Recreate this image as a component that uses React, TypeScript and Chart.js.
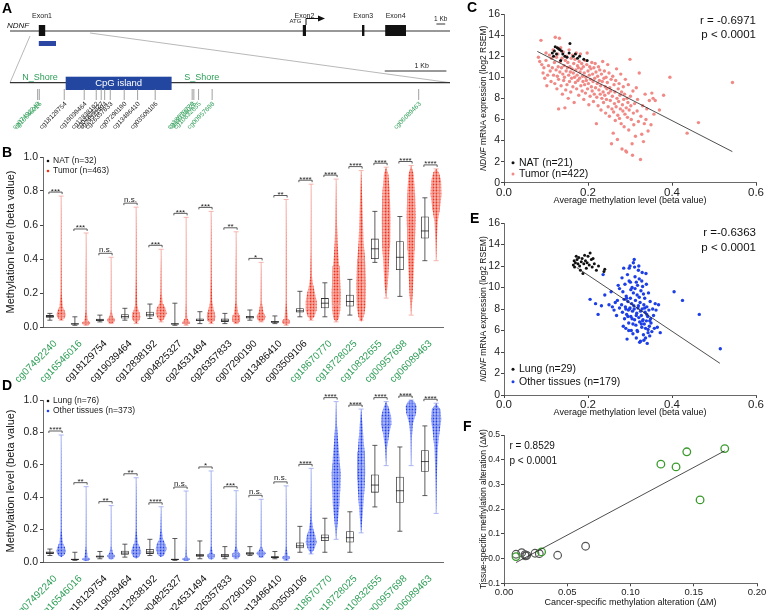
import React, { useEffect, useRef } from "react";
import { Chart, registerables } from "chart.js";
Chart.register(...registerables);

const FONT = "'Liberation Sans', Arial, Helvetica, sans-serif";
Chart.defaults.font.family = FONT;
Chart.defaults.color = "#222";

const GREEN = "#2e9e57";

// ---------------- Panel A data ----------------
const geneSpanKb = [0, 55];
const exonNames = ["Exon1", "Exon2", "Exon3", "Exon4"];
const exonStartKb = [3.6, 36.6, 44.0, 46.9];
const exonEndKb = [4.4, 37.0, 44.3, 49.5];
const cpgMarkKb = [3.6, 5.75];
const zoomedRegionKb = [2.5, 10];
const geneScaleBarKb = [53.3, 54.4];
const regionSpanBp = [0, 7000];
const cpgIslandBp = [886, 2571];
const shoreNames = ["N_Shore", "S_Shore"];
const shoreLabelBp = [477, 3052];
const regionScaleBarBp = [5962, 6943];

// ---------------- Probes ----------------
const probes = [
  "cg07492240", "cg16546016", "cg18129754", "cg19039464", "cg12838192", "cg04825327",
  "cg24531494", "cg26357833", "cg07290190", "cg13486410", "cg03509106", "cg18670770",
  "cg18728025", "cg10832655", "cg00957698", "cg06089463",
];
const probePosBp = [440, 466, 863, 1181, 1372, 1451, 1506, 1595, 1817, 2030, 2310, 2898, 2925, 3000, 3216, 6502];
const shoreProbe = [1, 1, 0, 0, 0, 0, 0, 0, 0, 0, 0, 1, 1, 1, 1, 1];

// ---------------- Panel B data: [min, q1, median, q3, max] ----------------
const natStats = [
  [0.04, 0.055, 0.062, 0.07, 0.08], [0.01, 0.015, 0.018, 0.022, 0.06], [0.03, 0.035, 0.04, 0.048, 0.07],
  [0.04, 0.05, 0.062, 0.075, 0.11], [0.05, 0.062, 0.072, 0.09, 0.135], [0.01, 0.015, 0.018, 0.022, 0.14],
  [0.02, 0.035, 0.04, 0.05, 0.09], [0.02, 0.03, 0.04, 0.05, 0.08], [0.04, 0.05, 0.058, 0.065, 0.1],
  [0.02, 0.025, 0.03, 0.035, 0.065], [0.06, 0.085, 0.095, 0.11, 0.21], [0.06, 0.11, 0.14, 0.17, 0.26],
  [0.07, 0.12, 0.15, 0.19, 0.28], [0.38, 0.4, 0.46, 0.52, 0.68], [0.18, 0.335, 0.41, 0.505, 0.65],
  [0.39, 0.52, 0.565, 0.65, 0.76],
];
const tumorStats = [
  [0.04, 0.06, 0.072, 0.09, 0.77], [0.01, 0.017, 0.022, 0.03, 0.553], [0.02, 0.032, 0.04, 0.05, 0.41],
  [0.02, 0.04, 0.055, 0.09, 0.705], [0.03, 0.065, 0.085, 0.11, 0.457], [0.01, 0.018, 0.022, 0.03, 0.645],
  [0.02, 0.035, 0.05, 0.09, 0.68], [0.02, 0.03, 0.04, 0.07, 0.56], [0.03, 0.045, 0.055, 0.075, 0.38],
  [0.01, 0.02, 0.03, 0.04, 0.75], [0.04, 0.1, 0.14, 0.18, 0.84], [0.03, 0.13, 0.2, 0.36, 0.87],
  [0.04, 0.15, 0.26, 0.4, 0.92], [0.17, 0.47, 0.6, 0.75, 0.94], [0.07, 0.45, 0.6, 0.79, 0.95],
  [0.39, 0.685, 0.79, 0.85, 0.93],
];
// relative density of the dot cloud: [beta value, density]
const tumorDensity = [
  [[0.04, 0], [0.05, 0.6], [0.07, 0.85], [0.09, 0.7], [0.12, 0.3], [0.2, 0.1], [0.4, 0.05], [0.77, 0]],
  [[0.01, 0], [0.015, 0.6], [0.025, 0.75], [0.04, 0.3], [0.1, 0.08], [0.3, 0.05], [0.553, 0]],
  [[0.02, 0], [0.03, 0.6], [0.045, 0.7], [0.06, 0.3], [0.1, 0.06], [0.41, 0]],
  [[0.02, 0], [0.035, 0.5], [0.06, 0.8], [0.09, 0.5], [0.13, 0.2], [0.3, 0.06], [0.705, 0]],
  [[0.03, 0], [0.05, 0.6], [0.08, 1], [0.11, 0.8], [0.14, 0.3], [0.2, 0.1], [0.457, 0]],
  [[0.01, 0], [0.02, 0.6], [0.03, 0.7], [0.05, 0.2], [0.15, 0.06], [0.645, 0]],
  [[0.02, 0], [0.035, 0.6], [0.06, 0.8], [0.1, 0.5], [0.15, 0.2], [0.3, 0.08], [0.68, 0]],
  [[0.02, 0], [0.03, 0.6], [0.05, 0.75], [0.08, 0.4], [0.15, 0.1], [0.56, 0]],
  [[0.03, 0], [0.04, 0.6], [0.06, 0.8], [0.09, 0.4], [0.15, 0.1], [0.38, 0]],
  [[0.01, 0], [0.02, 0.6], [0.035, 0.75], [0.05, 0.3], [0.15, 0.06], [0.75, 0]],
  [[0.04, 0], [0.06, 0.6], [0.1, 1], [0.15, 1], [0.2, 0.7], [0.25, 0.35], [0.3, 0.15], [0.45, 0.05], [0.84, 0]],
  [[0.03, 0], [0.05, 0.5], [0.1, 0.75], [0.2, 0.8], [0.3, 0.7], [0.4, 0.45], [0.5, 0.25], [0.65, 0.12], [0.87, 0]],
  [[0.03, 0], [0.06, 0.5], [0.12, 0.8], [0.25, 0.9], [0.38, 0.75], [0.5, 0.45], [0.65, 0.3], [0.8, 0.15], [0.92, 0]],
  [[0.17, 0], [0.25, 0.3], [0.4, 0.55], [0.5, 0.75], [0.65, 0.8], [0.8, 0.65], [0.9, 0.4], [0.94, 0]],
  [[0.07, 0], [0.2, 0.3], [0.35, 0.5], [0.5, 0.7], [0.65, 0.8], [0.8, 0.7], [0.9, 0.45], [0.95, 0]],
  [[0.39, 0], [0.5, 0.1], [0.62, 0.3], [0.7, 0.7], [0.78, 1], [0.86, 0.9], [0.91, 0.5], [0.93, 0]],
];
const sigB = ["***", "***", "n.s.", "n.s.", "***", "***", "***", "**", "*", "**", "****", "****", "****", "****", "****", "****"];

// ---------------- Panel D data ----------------
const lungStats = [
  [0.04, 0.05, 0.057, 0.065, 0.08], [0.01, 0.013, 0.016, 0.02, 0.06], [0.02, 0.028, 0.033, 0.04, 0.065],
  [0.03, 0.045, 0.055, 0.07, 0.11], [0.04, 0.05, 0.062, 0.08, 0.14], [0.01, 0.013, 0.016, 0.02, 0.145],
  [0.02, 0.032, 0.04, 0.05, 0.13], [0.02, 0.03, 0.038, 0.05, 0.095], [0.04, 0.045, 0.053, 0.06, 0.095],
  [0.02, 0.025, 0.03, 0.035, 0.065], [0.06, 0.085, 0.1, 0.12, 0.22], [0.06, 0.13, 0.15, 0.17, 0.27],
  [0.06, 0.12, 0.15, 0.19, 0.31], [0.34, 0.428, 0.475, 0.54, 0.72], [0.19, 0.366, 0.44, 0.527, 0.71],
  [0.41, 0.557, 0.62, 0.69, 0.84],
];
const otherStats = [
  [0.04, 0.055, 0.065, 0.08, 0.784], [0.01, 0.014, 0.018, 0.022, 0.465], [0.02, 0.03, 0.036, 0.045, 0.348],
  [0.03, 0.045, 0.06, 0.08, 0.52], [0.04, 0.06, 0.08, 0.11, 0.341], [0.01, 0.014, 0.018, 0.022, 0.438],
  [0.02, 0.03, 0.038, 0.05, 0.562], [0.02, 0.033, 0.04, 0.055, 0.44], [0.03, 0.045, 0.052, 0.065, 0.387],
  [0.01, 0.02, 0.025, 0.035, 0.47], [0.05, 0.1, 0.12, 0.15, 0.578], [0.14, 0.46, 0.535, 0.605, 0.99],
  [0.18, 0.505, 0.59, 0.68, 0.944], [0.595, 0.84, 0.87, 0.9, 0.99], [0.595, 0.92, 0.955, 0.98, 1.0],
  [0.3, 0.84, 0.9, 0.95, 0.98],
];
const otherDensity = [
  [[0.03, 0], [0.045, 0.6], [0.065, 0.9], [0.09, 0.7], [0.12, 0.3], [0.2, 0.08], [0.784, 0]],
  [[0.005, 0], [0.012, 0.6], [0.02, 0.7], [0.03, 0.3], [0.1, 0.05], [0.465, 0]],
  [[0.015, 0], [0.025, 0.55], [0.04, 0.7], [0.055, 0.3], [0.1, 0.05], [0.348, 0]],
  [[0.02, 0], [0.035, 0.6], [0.06, 0.95], [0.09, 0.7], [0.12, 0.3], [0.2, 0.08], [0.52, 0]],
  [[0.03, 0], [0.045, 0.6], [0.08, 1], [0.11, 0.8], [0.14, 0.35], [0.2, 0.1], [0.341, 0]],
  [[0.005, 0], [0.012, 0.6], [0.02, 0.7], [0.03, 0.2], [0.1, 0.05], [0.438, 0]],
  [[0.015, 0], [0.025, 0.55], [0.04, 0.7], [0.055, 0.3], [0.1, 0.06], [0.562, 0]],
  [[0.02, 0], [0.03, 0.6], [0.045, 0.8], [0.065, 0.35], [0.1, 0.08], [0.44, 0]],
  [[0.025, 0], [0.04, 0.6], [0.055, 0.85], [0.07, 0.4], [0.1, 0.08], [0.387, 0]],
  [[0.01, 0], [0.018, 0.55], [0.03, 0.7], [0.04, 0.3], [0.1, 0.05], [0.47, 0]],
  [[0.05, 0], [0.08, 0.6], [0.12, 1], [0.16, 0.8], [0.2, 0.4], [0.26, 0.15], [0.35, 0.05], [0.578, 0]],
  [[0.14, 0], [0.25, 0.3], [0.35, 0.6], [0.45, 0.75], [0.55, 0.8], [0.65, 0.6], [0.75, 0.35], [0.85, 0.15], [0.99, 0]],
  [[0.18, 0], [0.3, 0.3], [0.45, 0.6], [0.55, 0.75], [0.65, 0.7], [0.75, 0.45], [0.85, 0.25], [0.944, 0]],
  [[0.595, 0], [0.7, 0.15], [0.8, 0.6], [0.85, 0.95], [0.9, 0.9], [0.95, 0.5], [0.99, 0]],
  [[0.595, 0], [0.75, 0.1], [0.85, 0.3], [0.92, 0.9], [0.96, 1], [0.99, 0.6], [1.0, 0]],
  [[0.3, 0], [0.5, 0.1], [0.7, 0.3], [0.8, 0.6], [0.88, 0.95], [0.94, 0.8], [0.98, 0]],
];
const sigD = ["****", "**", "**", "**", "****", "n.s.", "*", "***", "n.s.", "n.s.", "****", "****", "****", "****", "****", "****"];

// ---------------- Panel C data ----------------
const cNatPoints = [
  [0.115, 12.3], [0.118, 12.0], [0.12, 12.5], [0.122, 12.9], [0.125, 12.2], [0.127, 12.8], [0.13, 12.7],
  [0.133, 12.6], [0.135, 11.6], [0.137, 12.5], [0.14, 12.2], [0.145, 12.0], [0.15, 11.9], [0.155, 12.3],
  [0.157, 13.2], [0.165, 12.0], [0.17, 12.2], [0.175, 11.8], [0.18, 12.0], [0.19, 11.7], [0.198, 11.6],
];
const cTumorPoints = [
  [0.082, 11.9], [0.085, 11.5], [0.088, 13.5], [0.09, 11.2], [0.093, 10.4], [0.095, 10.9], [0.097, 9.9], [0.1, 11.6],
  [0.1, 12.3], [0.102, 9.2], [0.104, 10.2], [0.106, 11.1], [0.108, 12.1], [0.11, 10.6], [0.112, 9.6], [0.113, 11.8],
  [0.115, 10.9], [0.117, 12.6], [0.118, 10.2], [0.12, 11.4], [0.121, 9.4], [0.122, 13.8], [0.124, 10.7], [0.125, 11.9],
  [0.126, 8.9], [0.127, 10.1], [0.128, 12.2], [0.129, 11.0], [0.13, 7.0], [0.13, 9.8], [0.132, 13.7], [0.133, 10.5],
  [0.134, 11.5], [0.135, 12.8], [0.136, 9.2], [0.137, 10.9], [0.138, 11.8], [0.139, 8.4], [0.14, 10.3], [0.141, 12.4],
  [0.142, 9.7], [0.143, 11.1], [0.144, 10.0], [0.145, 7.1], [0.146, 11.6], [0.147, 8.8], [0.148, 10.6], [0.149, 12.0],
  [0.15, 9.3], [0.151, 10.9], [0.152, 11.4], [0.153, 8.0], [0.154, 10.2], [0.155, 12.6], [0.156, 9.6], [0.157, 11.0],
  [0.158, 10.5], [0.159, 8.6], [0.16, 11.8], [0.161, 9.9], [0.162, 10.8], [0.163, 12.1], [0.164, 9.1], [0.165, 10.4],
  [0.166, 11.3], [0.167, 7.6], [0.168, 10.0], [0.169, 11.7], [0.17, 9.5], [0.171, 10.7], [0.172, 12.3], [0.173, 8.9],
  [0.174, 10.2], [0.175, 11.1], [0.176, 9.7], [0.177, 10.9], [0.178, 8.3], [0.179, 11.5], [0.18, 9.9], [0.181, 10.5],
  [0.182, 12.2], [0.183, 9.2], [0.184, 10.8], [0.185, 11.3], [0.186, 8.7], [0.187, 10.1], [0.188, 9.6], [0.189, 11.0],
  [0.19, 7.9], [0.191, 10.4], [0.192, 9.3], [0.193, 11.6], [0.194, 8.5], [0.195, 10.0], [0.196, 9.7], [0.197, 11.2],
  [0.198, 12.3], [0.199, 8.9], [0.2, 10.6], [0.201, 9.4], [0.202, 7.4], [0.203, 10.2], [0.204, 11.0], [0.205, 8.2],
  [0.206, 9.8], [0.207, 10.8], [0.208, 9.1], [0.209, 11.4], [0.21, 8.7], [0.211, 10.3], [0.212, 9.6], [0.213, 7.7],
  [0.214, 10.9], [0.215, 8.4], [0.216, 9.9], [0.217, 11.3], [0.218, 9.0], [0.219, 10.5], [0.22, 5.6], [0.221, 8.1],
  [0.222, 9.4], [0.223, 10.1], [0.224, 7.3], [0.225, 11.0], [0.226, 8.8], [0.227, 9.7], [0.228, 10.7], [0.229, 8.4],
  [0.23, 9.2], [0.231, 6.9], [0.232, 10.3], [0.233, 8.0], [0.234, 9.6], [0.235, 11.5], [0.236, 8.6], [0.237, 7.6],
  [0.238, 9.9], [0.239, 10.6], [0.24, 8.3], [0.241, 9.1], [0.242, 6.6], [0.243, 10.0], [0.244, 7.9], [0.245, 8.9],
  [0.246, 9.5], [0.247, 11.2], [0.248, 7.2], [0.249, 8.5], [0.25, 10.4], [0.251, 6.3], [0.252, 9.0], [0.253, 7.8],
  [0.254, 8.7], [0.255, 9.8], [0.256, 3.7], [0.257, 7.0], [0.258, 8.2], [0.259, 10.1], [0.26, 4.7], [0.261, 6.7],
  [0.262, 9.3], [0.263, 7.5], [0.264, 8.6], [0.265, 5.9], [0.266, 9.7], [0.267, 7.2], [0.268, 10.8], [0.269, 8.0],
  [0.27, 4.1], [0.271, 6.4], [0.272, 8.9], [0.273, 7.7], [0.274, 9.4], [0.275, 6.1], [0.276, 8.3], [0.277, 7.0],
  [0.278, 10.3], [0.279, 5.6], [0.28, 8.6], [0.281, 3.2], [0.282, 7.4], [0.283, 6.8], [0.284, 9.1], [0.285, 7.9],
  [0.286, 5.3], [0.287, 8.4], [0.288, 6.5], [0.289, 9.8], [0.29, 3.0], [0.291, 7.1], [0.292, 2.9], [0.293, 8.0],
  [0.294, 6.2], [0.295, 7.6], [0.296, 9.3], [0.297, 5.0], [0.298, 6.9], [0.3, 11.7], [0.301, 8.2], [0.302, 7.3],
  [0.303, 6.0], [0.305, 3.7], [0.306, 2.6], [0.307, 8.7], [0.308, 6.6], [0.309, 5.5], [0.311, 7.5], [0.313, 4.4],
  [0.315, 9.0], [0.317, 6.8], [0.318, 7.9], [0.32, 5.8], [0.322, 10.4], [0.325, 2.2], [0.326, 6.3], [0.328, 4.6],
  [0.33, 7.3], [0.332, 3.9], [0.334, 5.6], [0.336, 8.4], [0.338, 6.0], [0.34, 7.0], [0.343, 4.9], [0.346, 7.8],
  [0.35, 5.5], [0.352, 8.5], [0.355, 8.0], [0.357, 6.5], [0.36, 7.8], [0.37, 6.9], [0.38, 8.3], [0.395, 10.0],
  [0.436, 4.7], [0.463, 5.7], [0.544, 9.5],
];
const cFitX = [0.0794, 0.5437];
const cFitY = [12.45, 2.95];

// ---------------- Panel E data ----------------
const eLungPoints = [
  [0.165, 12.1], [0.167, 12.5], [0.168, 11.9], [0.17, 12.3], [0.172, 12.9], [0.174, 12.6], [0.176, 12.2],
  [0.178, 12.8], [0.18, 12.0], [0.182, 11.6], [0.184, 12.4], [0.186, 12.7], [0.188, 11.3], [0.19, 12.2],
  [0.192, 13.0], [0.194, 12.5], [0.196, 11.8], [0.198, 12.3], [0.2, 12.9], [0.203, 12.1], [0.205, 13.2],
  [0.208, 12.6], [0.21, 11.9], [0.212, 12.7], [0.215, 12.2], [0.22, 11.6], [0.225, 12.0], [0.238, 11.5], [0.24, 11.7],
];
const eOtherPoints = [
  [0.205, 8.9], [0.218, 8.5], [0.224, 7.5], [0.236, 11.2], [0.24, 9.3], [0.232, 8.3], [0.25, 8.4], [0.255, 9.6],
  [0.258, 8.2], [0.262, 7.9], [0.265, 8.6], [0.268, 7.4], [0.27, 8.8], [0.272, 10.2], [0.275, 9.9], [0.275, 8.1],
  [0.28, 8.4], [0.281, 10.9], [0.282, 7.7], [0.283, 9.6], [0.284, 6.4], [0.285, 11.8], [0.286, 8.9], [0.287, 7.1],
  [0.288, 10.3], [0.289, 8.2], [0.29, 6.2], [0.291, 9.2], [0.292, 7.5], [0.293, 5.2], [0.294, 11.2], [0.295, 8.7],
  [0.296, 7.9], [0.297, 6.7], [0.298, 10.6], [0.299, 8.0], [0.3, 12.0], [0.301, 9.0], [0.302, 7.3], [0.303, 6.0],
  [0.304, 8.5], [0.305, 10.0], [0.306, 7.8], [0.307, 5.7], [0.308, 9.5], [0.309, 8.3], [0.31, 12.6], [0.311, 7.0],
  [0.312, 11.0], [0.313, 8.8], [0.314, 6.5], [0.315, 10.5], [0.316, 7.6], [0.317, 9.3], [0.318, 5.9], [0.319, 8.1],
  [0.32, 11.6], [0.321, 7.2], [0.322, 10.8], [0.323, 6.8], [0.324, 8.6], [0.325, 5.0], [0.326, 9.7], [0.327, 7.4],
  [0.328, 6.3], [0.329, 8.0], [0.33, 10.1], [0.331, 7.0], [0.332, 5.6], [0.333, 8.4], [0.334, 6.6], [0.335, 9.0],
  [0.336, 7.7], [0.337, 5.3], [0.338, 11.3], [0.339, 6.9], [0.34, 8.2], [0.341, 4.8], [0.342, 7.3], [0.343, 6.1],
  [0.344, 9.5], [0.345, 7.9], [0.346, 6.4], [0.347, 5.5], [0.348, 8.7], [0.349, 7.1], [0.35, 6.7], [0.352, 5.9],
  [0.354, 8.0], [0.356, 7.4], [0.358, 6.2], [0.29, 8.0], [0.295, 7.3], [0.3, 8.1], [0.305, 7.1], [0.31, 8.0],
  [0.315, 7.4], [0.32, 8.3], [0.325, 7.8], [0.33, 6.9], [0.335, 8.1], [0.34, 7.5], [0.292, 9.0], [0.302, 9.8],
  [0.312, 9.9], [0.322, 9.1], [0.332, 9.4], [0.297, 6.0], [0.307, 6.6], [0.317, 6.0], [0.327, 6.6], [0.337, 6.2],
  [0.347, 6.9], [0.298, 11.8], [0.308, 12.3], [0.318, 10.2], [0.328, 10.6], [0.315, 5.3], [0.323, 4.9], [0.333, 5.1],
  [0.343, 5.8], [0.301, 10.5], [0.311, 11.9], [0.321, 12.0], [0.329, 11.4], [0.339, 10.3], [0.36, 8.5], [0.362, 7.9],
  [0.368, 8.4], [0.372, 5.8], [0.365, 6.3], [0.405, 9.6], [0.425, 8.8], [0.465, 7.5], [0.515, 4.3],
];
const eFitX = [0.173, 0.514];
const eFitY = [11.86, 2.95];

// ---------------- Panel F data ----------------
const fShoreCancer = [0.0095, 0.0297, 0.124, 0.136, 0.1445, 0.155, 0.1745];
const fShoreTissue = [0.008, 0.027, 0.382, 0.371, 0.432, 0.2375, 0.445];
const fIslandCancer = [0.0095, 0.014, 0.0166, 0.017, 0.018, 0.0245, 0.0279, 0.0424, 0.0645];
const fIslandTissue = [0.0175, 0.024, 0.016, 0.011, 0.013, 0.0216, 0.02, 0.0135, 0.05];
const fFitX = [0.0095, 0.1745];
const fFitY = [-0.016, 0.436];

// ---------------- helpers ----------------
function drawLetter(ctx: any, t: string, x: number, y: number) {
  ctx.save();
  ctx.font = `bold 14px ${FONT}`;
  ctx.fillStyle = "#000";
  ctx.textAlign = "left";
  ctx.textBaseline = "top";
  ctx.fillText(t, x, y);
  ctx.restore();
}

function seg(ctx: any, x0: number, y0: number, x1: number, y1: number) {
  ctx.beginPath();
  ctx.moveTo(x0, y0);
  ctx.lineTo(x1, y1);
  ctx.stroke();
}

function rotatedMixed(ctx: any, cx: number, cy: number, parts: { t: string; it?: boolean }[], size: number) {
  ctx.save();
  ctx.translate(cx, cy);
  ctx.rotate(-Math.PI / 2);
  ctx.fillStyle = "#111";
  ctx.textBaseline = "middle";
  ctx.textAlign = "left";
  let total = 0;
  const ws = parts.map((p) => {
    ctx.font = `${p.it ? "italic " : ""}${size}px ${FONT}`;
    const w = ctx.measureText(p.t).width;
    total += w;
    return w;
  });
  let x = -total / 2;
  parts.forEach((p, i) => {
    ctx.font = `${p.it ? "italic " : ""}${size}px ${FONT}`;
    ctx.fillText(p.t, x, 0);
    x += ws[i];
  });
  ctx.restore();
}

function dotPattern(ctx: any, color: string) {
  const c = document.createElement("canvas");
  c.width = 3;
  c.height = 3;
  const g = c.getContext("2d")!;
  g.fillStyle = color;
  g.beginPath();
  g.arc(1.5, 1.5, 0.9, 0, Math.PI * 2);
  g.fill();
  return ctx.createPattern(c, "repeat");
}

// ---------------- Panel A ----------------
function configA() {
  const plugin = {
    id: "geneTrack",
    afterDraw(chart: any) {
      const ctx = chart.ctx;
      const G = (v: number) => chart.scales.x.getPixelForValue(v);
      const R = (v: number) => chart.scales.x2.getPixelForValue(v);
      ctx.save();
      drawLetter(ctx, "A", 2, 2);
      ctx.strokeStyle = "#333";
      ctx.lineWidth = 1.2;
      seg(ctx, G(geneSpanKb[0]), 31, G(geneSpanKb[1]), 31);
      ctx.fillStyle = "#111";
      ctx.font = `italic 8px ${FONT}`;
      ctx.textAlign = "left";
      ctx.textBaseline = "alphabetic";
      ctx.fillText("NDNF", 7, 28);
      exonNames.forEach((n, i) => {
        const x0 = G(exonStartKb[i]);
        const x1 = G(exonEndKb[i]);
        ctx.fillStyle = "#111";
        ctx.fillRect(x0, 25, Math.max(x1 - x0, 1.6), 11);
        ctx.font = `7px ${FONT}`;
        ctx.textAlign = "center";
        ctx.fillStyle = "#222";
        ctx.fillText(n, (x0 + x1) / 2, 18);
      });
      const ax = G(exonEndKb[1]);
      ctx.font = `6px ${FONT}`;
      ctx.textAlign = "right";
      ctx.fillText("ATG", G(exonStartKb[1]) - 1.5, 23);
      ctx.strokeStyle = "#111";
      ctx.lineWidth = 1;
      ctx.beginPath();
      ctx.moveTo(ax, 25);
      ctx.lineTo(ax, 18.5);
      ctx.lineTo(ax + 13, 18.5);
      ctx.stroke();
      ctx.fillStyle = "#111";
      ctx.beginPath();
      ctx.moveTo(ax + 19, 18.5);
      ctx.lineTo(ax + 12, 15.5);
      ctx.lineTo(ax + 12, 21.5);
      ctx.closePath();
      ctx.fill();
      ctx.lineWidth = 1;
      ctx.strokeStyle = "#333";
      seg(ctx, G(geneScaleBarKb[0]), 24, G(geneScaleBarKb[1]), 24);
      ctx.font = `6.5px ${FONT}`;
      ctx.textAlign = "center";
      ctx.fillStyle = "#222";
      ctx.fillText("1 Kb", (G(geneScaleBarKb[0]) + G(geneScaleBarKb[1])) / 2, 21);
      ctx.fillStyle = "#2b47a3";
      ctx.fillRect(G(cpgMarkKb[0]), 41, G(cpgMarkKb[1]) - G(cpgMarkKb[0]), 5);
      ctx.strokeStyle = "#9a9a9a";
      ctx.lineWidth = 0.7;
      seg(ctx, G(zoomedRegionKb[0]), 36, R(regionSpanBp[0]), 82.7);
      seg(ctx, G(zoomedRegionKb[1]), 33, R(regionSpanBp[1]), 82.7);
      ctx.strokeStyle = "#333";
      ctx.lineWidth = 1.2;
      seg(ctx, R(regionSpanBp[0]), 82.7, R(regionSpanBp[1]), 82.7);
      const c0 = R(cpgIslandBp[0]);
      const c1 = R(cpgIslandBp[1]);
      ctx.fillStyle = "#2346a0";
      ctx.fillRect(c0, 76.7, c1 - c0, 13.3);
      ctx.fillStyle = "#fff";
      ctx.font = `9.5px ${FONT}`;
      ctx.textAlign = "center";
      ctx.textBaseline = "middle";
      ctx.fillText("CpG island", (c0 + c1) / 2, 83.5);
      ctx.fillStyle = GREEN;
      ctx.font = `9px ${FONT}`;
      shoreNames.forEach((n, i) => ctx.fillText(n, R(shoreLabelBp[i]), 77.5));
      ctx.strokeStyle = "#333";
      ctx.lineWidth = 1;
      seg(ctx, R(regionScaleBarBp[0]), 71, R(regionScaleBarBp[1]), 71);
      ctx.fillStyle = "#222";
      ctx.font = `7px ${FONT}`;
      ctx.fillText("1 Kb", (R(regionScaleBarBp[0]) + R(regionScaleBarBp[1])) / 2 + 6, 65.7);
      probes.forEach((p, i) => {
        const x = R(probePosBp[i]);
        ctx.strokeStyle = "#888";
        ctx.lineWidth = 0.8;
        seg(ctx, x, 89, x, 100);
        ctx.save();
        ctx.translate(x + 1.5, 103);
        ctx.rotate(-Math.PI / 4);
        ctx.font = `6.5px ${FONT}`;
        ctx.textAlign = "right";
        ctx.textBaseline = "middle";
        ctx.fillStyle = shoreProbe[i] ? GREEN : "#222";
        ctx.fillText(p, 0, 0);
        ctx.restore();
      });
      ctx.restore();
    },
  };
  return {
    type: "scatter",
    data: { datasets: [] },
    options: {
      responsive: false,
      animation: false,
      devicePixelRatio: 1,
      layout: { padding: { left: 10, right: 30, top: 0, bottom: 0 } },
      plugins: { legend: { display: false }, tooltip: { enabled: false } },
      scales: {
        x: { type: "linear", display: false, min: geneSpanKb[0], max: geneSpanKb[1] },
        x2: { type: "linear", axis: "x", display: false, min: regionSpanBp[0], max: regionSpanBp[1] },
        y: { display: false, min: 0, max: 1 },
      },
    },
    plugins: [plugin],
  };
}

// ---------------- Panels B / D ----------------
function configBox(p: any) {
  const HALF = 5.5;
  const plugin = {
    id: "box" + p.letter,
    beforeDatasetsDraw(chart: any) {
      const ctx = chart.ctx;
      const y = chart.scales.y;
      const m0 = chart.getDatasetMeta(0);
      const m1 = chart.getDatasetMeta(1);
      ctx.save();
      const sets: any[] = [
        [m0, p.normal, "#333"],
        [m1, p.disease, p.whiskerColor],
      ];
      sets.forEach(([meta, stats, col]) => {
        meta.data.forEach((el: any, i: number) => {
          const s = stats[i];
          ctx.strokeStyle = col;
          ctx.lineWidth = 0.8;
          seg(ctx, el.x, y.getPixelForValue(s[0]), el.x, y.getPixelForValue(s[4]));
          [s[0], s[4]].forEach((v: number) => {
            const py = y.getPixelForValue(v);
            seg(ctx, el.x - 2.5, py, el.x + 2.5, py);
          });
        });
      });
      const pat = dotPattern(ctx, p.dotColor);
      m1.data.forEach((el: any, i: number) => {
        const prof = p.density[i];
        const x = el.x;
        ctx.beginPath();
        prof.forEach(([v, d]: number[], k: number) => {
          const px = x + d * HALF;
          const py = y.getPixelForValue(v);
          if (k === 0) ctx.moveTo(px, py);
          else ctx.lineTo(px, py);
        });
        for (let k = prof.length - 1; k >= 0; k--) {
          const [v, d] = prof[k];
          ctx.lineTo(x - d * HALF, y.getPixelForValue(v));
        }
        ctx.closePath();
        ctx.globalAlpha = 0.35;
        ctx.fillStyle = p.dotColor;
        ctx.fill();
        ctx.globalAlpha = 1;
        ctx.fillStyle = pat;
        ctx.fill();
      });
      ctx.restore();
    },
    afterDatasetsDraw(chart: any) {
      const ctx = chart.ctx;
      const y = chart.scales.y;
      const m0 = chart.getDatasetMeta(0);
      const m1 = chart.getDatasetMeta(1);
      ctx.save();
      const sets: any[] = [
        [m0, p.normal, "#222"],
        [m1, p.disease, p.boxColor],
      ];
      sets.forEach(([meta, stats, col]) => {
        meta.data.forEach((el: any, i: number) => {
          const py = y.getPixelForValue(stats[i][2]);
          ctx.strokeStyle = col;
          ctx.lineWidth = 0.8;
          seg(ctx, el.x - el.width / 2, py, el.x + el.width / 2, py);
        });
      });
      ctx.strokeStyle = "#333";
      ctx.fillStyle = "#222";
      ctx.lineWidth = 0.8;
      ctx.font = `8px ${FONT}`;
      ctx.textAlign = "center";
      ctx.textBaseline = "alphabetic";
      p.sig.forEach((s: string, i: number) => {
        const top = Math.max(p.normal[i][4], p.disease[i][4]);
        const py = y.getPixelForValue(top) - 4;
        const x0 = m0.data[i].x - 1;
        const x1 = m1.data[i].x + 1;
        ctx.beginPath();
        ctx.moveTo(x0, py + 2);
        ctx.lineTo(x0, py);
        ctx.lineTo(x1, py);
        ctx.lineTo(x1, py + 2);
        ctx.stroke();
        ctx.fillText(s, (x0 + x1) / 2, s === "n.s." ? py - 1.5 : py + 1.5);
      });
      ctx.font = `8.5px ${FONT}`;
      ctx.textAlign = "left";
      ctx.textBaseline = "middle";
      const ly = p.legendY;
      [["#111", p.legend[0]], [p.dotColor, p.legend[1]]].forEach(([c, t]: string[], k: number) => {
        ctx.fillStyle = c;
        ctx.beginPath();
        ctx.arc(48, ly[k], 1.3, 0, Math.PI * 2);
        ctx.fill();
        ctx.fillStyle = "#222";
        ctx.fillText(t, 53, ly[k]);
      });
      drawLetter(ctx, p.letter, 2, p.letterY);
      ctx.restore();
    },
  };
  return {
    type: "bar",
    data: {
      labels: probes,
      datasets: [
        {
          label: p.legend[0],
          data: p.normal.map((s: number[]) => [s[1], s[3]]),
          backgroundColor: "rgba(0,0,0,0)",
          borderColor: "#333",
          borderWidth: 0.8,
          borderSkipped: false,
          categoryPercentage: 0.9,
          barPercentage: 0.7,
        },
        {
          label: p.legend[1],
          data: p.disease.map((s: number[]) => [s[1], s[3]]),
          backgroundColor: "rgba(0,0,0,0)",
          borderColor: p.boxColor,
          borderWidth: 0.8,
          borderSkipped: false,
          categoryPercentage: 0.9,
          barPercentage: 0.7,
        },
      ],
    },
    options: {
      responsive: false,
      animation: false,
      devicePixelRatio: 1,
      layout: { padding: { top: p.padTop, right: 7, left: 0, bottom: 0 } },
      plugins: { legend: { display: false }, tooltip: { enabled: false } },
      scales: {
        x: {
          type: "category",
          offset: true,
          grid: { display: false },
          border: { color: "#444", width: 0.8 },
          ticks: {
            autoSkip: false,
            minRotation: 45,
            maxRotation: 45,
            padding: 3,
            font: { size: 10 },
            color: (c: any) => (shoreProbe[c.index] ? GREEN : "#111"),
          },
          afterFit: (s: any) => {
            s.height = p.xHeight;
          },
        },
        y: {
          min: 0,
          max: 1,
          ticks: {
            stepSize: 0.2,
            padding: 2,
            font: { size: 10.5 },
            color: "#222",
            callback: (v: any) => Number(v).toFixed(1),
          },
          grid: { display: true, drawOnChartArea: false, tickLength: 3, color: "#444" },
          border: { color: "#444", width: 0.8 },
          title: {
            display: true,
            text: "Methylation level (beta value)",
            font: { size: 11 },
            color: "#111",
            padding: { top: 4, bottom: 0 },
          },
          afterFit: (s: any) => {
            s.width = 43;
          },
        },
      },
    },
    plugins: [plugin],
  };
}

// ---------------- Panels C / E ----------------
const RIGHT_X = 462;

function configScatter(p: any) {
  const plugin = {
    id: "sc" + p.letter,
    afterDraw(chart: any) {
      const ctx = chart.ctx;
      const a = chart.chartArea;
      ctx.save();
      drawLetter(ctx, p.letter, p.letterX, p.letterY);
      rotatedMixed(ctx, 22, (a.top + a.bottom) / 2, [{ t: "NDNF", it: true }, { t: " mRNA expression (log2 RSEM)" }], 8.5);
      ctx.fillStyle = "#111";
      ctx.font = `9px ${FONT}`;
      ctx.textAlign = "center";
      ctx.textBaseline = "middle";
      ctx.fillText("Average methylation level (beta value)", (a.left + a.right) / 2, a.bottom + 18);
      ctx.font = `11.5px ${FONT}`;
      ctx.textAlign = "right";
      ctx.fillText(p.rText, a.right, p.rY);
      ctx.fillText("p < 0.0001", a.right, p.rY + p.rGap);
      ctx.font = `10.5px ${FONT}`;
      ctx.textAlign = "left";
      [["#111", p.legend[0]], [p.color, p.legend[1]]].forEach(([c, t]: string[], k: number) => {
        ctx.fillStyle = c;
        ctx.beginPath();
        ctx.arc(a.left + 9, p.legendY[k], 1.5, 0, Math.PI * 2);
        ctx.fill();
        ctx.fillStyle = "#111";
        ctx.fillText(t, a.left + 15, p.legendY[k]);
      });
      ctx.restore();
    },
  };
  return {
    type: "scatter",
    data: {
      datasets: [
        {
          type: "line",
          label: "fit",
          data: p.fitX.map((x: number, i: number) => ({ x, y: p.fitY[i] })),
          borderColor: "#222",
          borderWidth: 0.8,
          pointRadius: 0,
          fill: false,
        },
        {
          label: p.legend[0],
          data: p.normal.map((q: number[]) => ({ x: q[0], y: q[1] })),
          backgroundColor: "#111",
          borderWidth: 0,
          pointRadius: 1.5,
        },
        {
          label: p.legend[1],
          data: p.disease.map((q: number[]) => ({ x: q[0], y: q[1] })),
          backgroundColor: p.color,
          borderWidth: 0,
          pointRadius: 1.7,
        },
      ],
    },
    options: {
      responsive: false,
      animation: false,
      devicePixelRatio: 1,
      layout: { padding: { top: p.padTop, right: 12, left: 0, bottom: 0 } },
      plugins: { legend: { display: false }, tooltip: { enabled: false } },
      scales: {
        x: {
          type: "linear",
          min: 0,
          max: 0.6,
          ticks: { stepSize: 0.2, font: { size: 11.5 }, color: "#222", padding: 0, callback: (v: any) => Number(v).toFixed(1) },
          grid: { display: true, drawOnChartArea: false, tickLength: 3, color: "#444" },
          border: { color: "#444", width: 0.8 },
          afterFit: (s: any) => {
            s.height = p.xHeight;
          },
        },
        y: {
          type: "linear",
          min: 0,
          max: 16,
          ticks: { stepSize: 2, font: { size: 10.5 }, color: "#222", padding: 1 },
          grid: { display: true, drawOnChartArea: false, tickLength: 3, color: "#444" },
          border: { color: "#444", width: 0.8 },
          afterFit: (s: any) => {
            s.width = 504 - RIGHT_X;
          },
        },
      },
    },
    plugins: [plugin],
  };
}

// ---------------- Panel F ----------------
function configF() {
  const plugin = {
    id: "scF",
    afterDraw(chart: any) {
      const ctx = chart.ctx;
      const a = chart.chartArea;
      ctx.save();
      drawLetter(ctx, "F", 1, 0);
      rotatedMixed(ctx, 22, (a.top + a.bottom) / 2, [{ t: "Tissue-specific methylation alteration (\u0394M)" }], 8.5);
      ctx.fillStyle = "#111";
      ctx.font = `9px ${FONT}`;
      ctx.textAlign = "center";
      ctx.textBaseline = "middle";
      ctx.fillText("Cancer-specific methylation alteration (\u0394M)", (a.left + a.right) / 2, a.bottom + 19);
      ctx.font = `10px ${FONT}`;
      ctx.textAlign = "left";
      ctx.fillText("r = 0.8529", a.left + 5.5, 26.7);
      ctx.fillText("p < 0.0001", a.left + 5.5, 41.7);
      ctx.restore();
    },
  };
  return {
    type: "scatter",
    data: {
      datasets: [
        {
          type: "line",
          label: "fit",
          data: fFitX.map((x, i) => ({ x, y: fFitY[i] })),
          borderColor: "#222",
          borderWidth: 0.8,
          pointRadius: 0,
          fill: false,
        },
        {
          label: "shore",
          data: fShoreCancer.map((x, i) => ({ x, y: fShoreTissue[i] })),
          pointRadius: 3.8,
          pointBorderWidth: 1.3,
          borderColor: "#3a9a2c",
          backgroundColor: "rgba(0,0,0,0)",
        },
        {
          label: "island",
          data: fIslandCancer.map((x, i) => ({ x, y: fIslandTissue[i] })),
          pointRadius: 3.8,
          pointBorderWidth: 1.2,
          borderColor: "#555",
          backgroundColor: "rgba(0,0,0,0)",
        },
      ],
    },
    options: {
      responsive: false,
      animation: false,
      devicePixelRatio: 1,
      layout: { padding: { top: 15, right: 11, left: 0, bottom: 0 } },
      plugins: { legend: { display: false }, tooltip: { enabled: false } },
      scales: {
        x: {
          type: "linear",
          min: 0,
          max: 0.2,
          ticks: { stepSize: 0.05, font: { size: 9.5 }, color: "#222", padding: 0, callback: (v: any) => Number(v).toFixed(2) },
          grid: { display: true, drawOnChartArea: false, tickLength: 3, color: "#444" },
          border: { color: "#444", width: 0.8 },
          afterFit: (s: any) => {
            s.height = 26.7;
          },
        },
        y: {
          type: "linear",
          min: -0.1,
          max: 0.5,
          ticks: { stepSize: 0.1, font: { size: 8.5 }, color: "#222", padding: 1, callback: (v: any) => Number(v).toFixed(1) },
          grid: { display: true, drawOnChartArea: false, tickLength: 3, color: "#444" },
          border: { color: "#444", width: 0.8 },
          afterFit: (s: any) => {
            s.width = 504 - RIGHT_X;
          },
        },
      },
    },
    plugins: [plugin],
  };
}

function ChartCanvas({ x, y, w, h, make }: { x: number; y: number; w: number; h: number; make: () => any }) {
  const ref = useRef<HTMLCanvasElement>(null);
  useEffect(() => {
    const chart = new Chart(ref.current as HTMLCanvasElement, make());
    return () => chart.destroy();
  }, []);
  return (
    <canvas
      ref={ref}
      width={w}
      height={h}
      style={{ position: "absolute", left: x, top: y, width: w, height: h }}
    />
  );
}

export default function App() {
  const rw = 768 - RIGHT_X;
  return (
    <div style={{ position: "fixed", left: 0, top: 0, width: 768, height: 610, background: "#fff", overflow: "hidden" }}>
      <ChartCanvas x={0} y={0} w={480} h={134} make={configA} />
      <ChartCanvas
        x={0}
        y={135}
        w={450}
        h={265}
        make={() =>
          configBox({
            letter: "B",
            letterY: 11,
            normal: natStats,
            disease: tumorStats,
            density: tumorDensity,
            sig: sigB,
            legend: ["NAT (n=32)", "Tumor (n=463)"],
            legendY: [26, 36],
            dotColor: "#f0321c",
            boxColor: "#f09088",
            whiskerColor: "#f2a39b",
            padTop: 22,
            xHeight: 73,
          })
        }
      />
      <ChartCanvas
        x={0}
        y={375}
        w={450}
        h={235}
        make={() =>
          configBox({
            letter: "D",
            letterY: 4,
            normal: lungStats,
            disease: otherStats,
            density: otherDensity,
            sig: sigD,
            legend: ["Lung (n=76)", "Other tissues (n=373)"],
            legendY: [26, 36],
            dotColor: "#1f40f0",
            boxColor: "#8596ec",
            whiskerColor: "#97a4ee",
            padTop: 25,
            xHeight: 48,
          })
        }
      />
      <ChartCanvas
        x={RIGHT_X}
        y={0}
        w={rw}
        h={205}
        make={() =>
          configScatter({
            letter: "C",
            letterX: 5,
            letterY: 1,
            normal: cNatPoints,
            disease: cTumorPoints,
            fitX: cFitX,
            fitY: cFitY,
            legend: ["NAT (n=21)", "Tumor (n=422)"],
            legendY: [162.7, 174],
            color: "#f08a86",
            rText: "r = -0.6971",
            rY: 21,
            rGap: 13.5,
            padTop: 14,
            xHeight: 22.3,
          })
        }
      />
      <ChartCanvas
        x={RIGHT_X}
        y={205}
        w={rw}
        h={214}
        make={() =>
          configScatter({
            letter: "E",
            letterX: 8,
            letterY: 7,
            normal: eLungPoints,
            disease: eOtherPoints,
            fitX: eFitX,
            fitY: eFitY,
            legend: ["Lung (n=29)", "Other tissues (n=179)"],
            legendY: [164.3, 176.7],
            color: "#1d3fe6",
            rText: "r =-0.6363",
            rY: 28.3,
            rGap: 15,
            padTop: 18,
            xHeight: 24,
          })
        }
      />
      <ChartCanvas x={RIGHT_X} y={420} w={rw} h={190} make={configF} />
    </div>
  );
}
